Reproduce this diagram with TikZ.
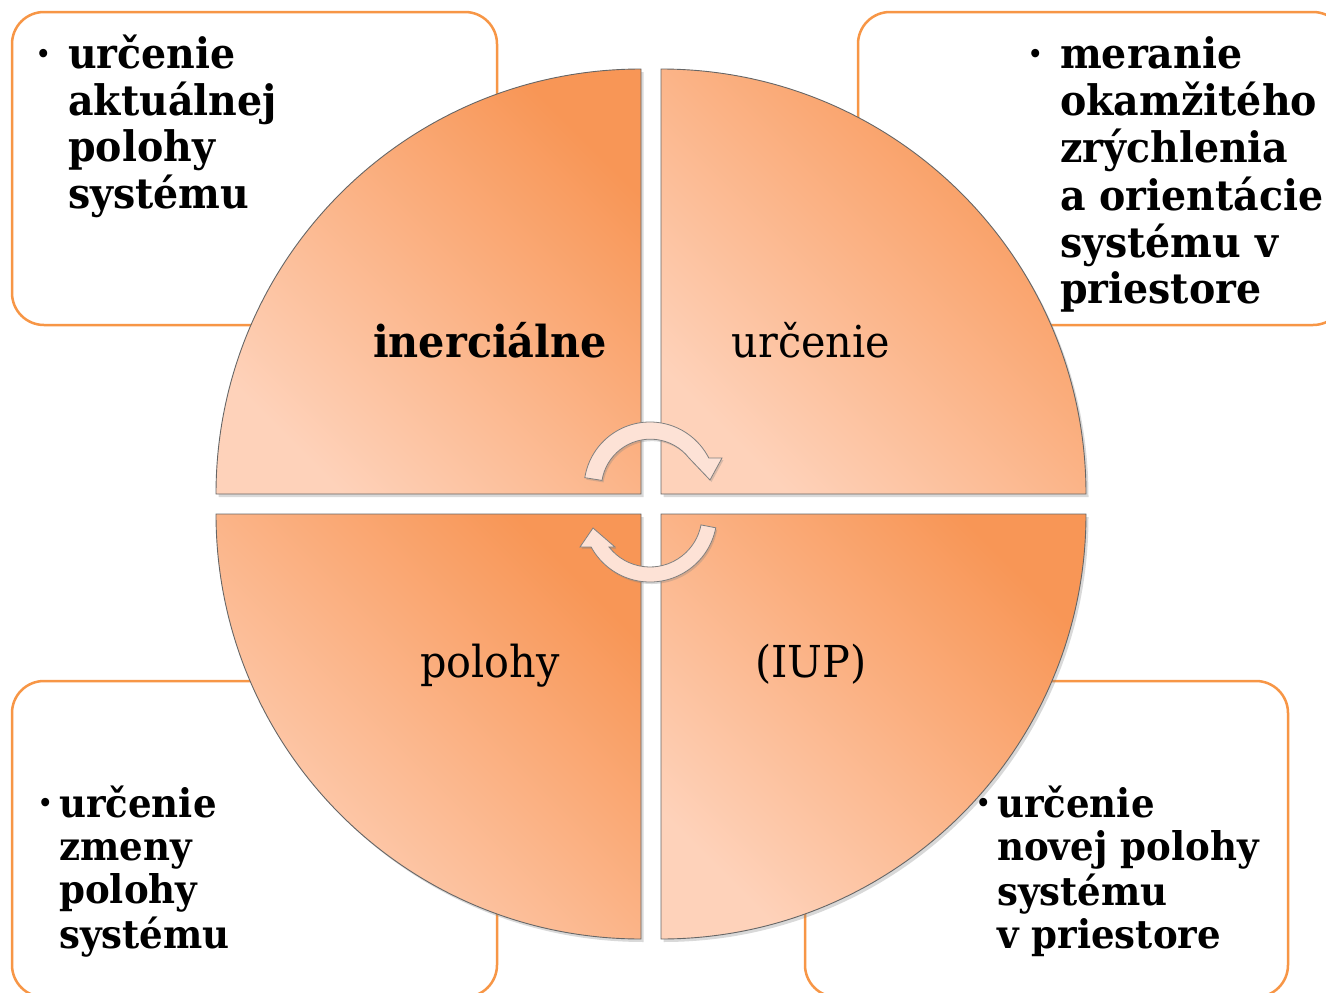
\documentclass[tikz,border=0pt]{standalone}
\usepackage{fontspec}
\setmainfont{DejaVu Serif}[FakeStretch=0.94]
\usetikzlibrary{shadows,calc}
\definecolor{boxorange}{RGB}{247,150,70}
\definecolor{qdark}{RGB}{248,150,86}
\definecolor{qlight}{RGB}{254,210,186}
\definecolor{arrfill}{RGB}{253,226,214}
\newcommand{\bul}{\raisebox{6pt}{\fontsize{24}{24}\selectfont •}}
\begin{document}
\begin{tikzpicture}[x=1pt,y=-1pt,
  infobox/.style={draw=boxorange, line width=2.5pt, fill=white, rounded corners=32pt},
  quad/.style={draw=black!60, line width=0.9pt, top color=qdark, bottom color=qlight, shading angle=-45,
     drop shadow={shadow xshift=2.5pt, shadow yshift=-3pt, opacity=0.3}},
  cyc/.style={fill=arrfill, draw=black!50, line width=0.8pt,
     drop shadow={shadow xshift=1.5pt, shadow yshift=-2pt, opacity=0.3}},
  bigtxt/.style={anchor=base west, inner sep=0pt, font=\fontsize{42}{46}\selectfont\bfseries},
  smalltxt/.style={anchor=base west, inner sep=0pt, font=\fontsize{39.5}{43.4}\selectfont\bfseries},
  qlabel/.style={anchor=base, inner sep=0pt, font=\fontsize{44}{46}\selectfont}
]
\useasboundingbox (0,0) rectangle (1326,993);
\clip (0,0) rectangle (1326,993);

% info boxes
\draw[infobox] (12,12) rectangle (497,325);
\draw[infobox] (858,12) rectangle (1345,325);
\draw[infobox] (12,681) rectangle (497,997);
\draw[infobox] (805,681) rectangle (1288,997);

% quadrants
\path[quad] (641,494) -- (216,494) arc[start angle=180, end angle=270, radius=425] -- cycle;
\path[quad] (661,494) -- (661,69) arc[start angle=270, end angle=360, radius=425] -- cycle;
\path[quad] (641,514) -- (641,939) arc[start angle=90, end angle=180, radius=425] -- cycle;
\path[quad] (661,514) -- (1086,514) arc[start angle=0, end angle=90, radius=425] -- cycle;

% cycle arrows
\coordinate (c1) at (650,488);
\coordinate (c2) at (650,515);
\path[cyc] ($(c1)+(189:49)$) -- ($(c1)+(189:66)$) arc[start angle=189, end angle=333, radius=66]
   -- (722,458) -- (710,480) -- (689,458) arc[start angle=322, end angle=189, radius=49] -- cycle;
\path[cyc] ($(c2)+(11:52)$) -- ($(c2)+(11:67)$) arc[start angle=11, end angle=151.5, radius=67]
   -- (580,547) -- (593,528) -- (615,547) -- (609,547) arc[start angle=142, end angle=11, radius=52] -- cycle;

% quadrant labels
\node[qlabel, font=\fontsize{44}{46}\selectfont\bfseries] (lA) at (490,357) {inerciálne};
\node[qlabel] (lB) at (811,357) {určenie};
\node[qlabel] (lC) at (490,677) {polohy};
\node[qlabel] (lD) at (811,677) {(IUP)};

% box texts
\node[bigtxt] (tTL) at (36,68) {\begin{tabular}[t]{@{}p{32pt}@{}l@{}}
\bul & určenie\\ & aktuálnej\\ & polohy\\ & systému\end{tabular}};
\node[bigtxt] (tTR) at (1028,68) {\begin{tabular}[t]{@{}p{32pt}@{}l@{}}
\bul & meranie\\ & okamžitého\\ & zrýchlenia\\ & a orientácie\\ & systému v\\ & priestore\end{tabular}};
\node[smalltxt] (tBL) at (38,817) {\begin{tabular}[t]{@{}p{21pt}@{}l@{}}
\bul & určenie\\ & zmeny\\ & polohy\\ & systému\end{tabular}};
\node[smalltxt] (tBR) at (976,817) {\begin{tabular}[t]{@{}p{21pt}@{}l@{}}
\bul & určenie\\ & novej polohy\\ & systému\\ & v priestore\end{tabular}};
\end{tikzpicture}
\end{document}
